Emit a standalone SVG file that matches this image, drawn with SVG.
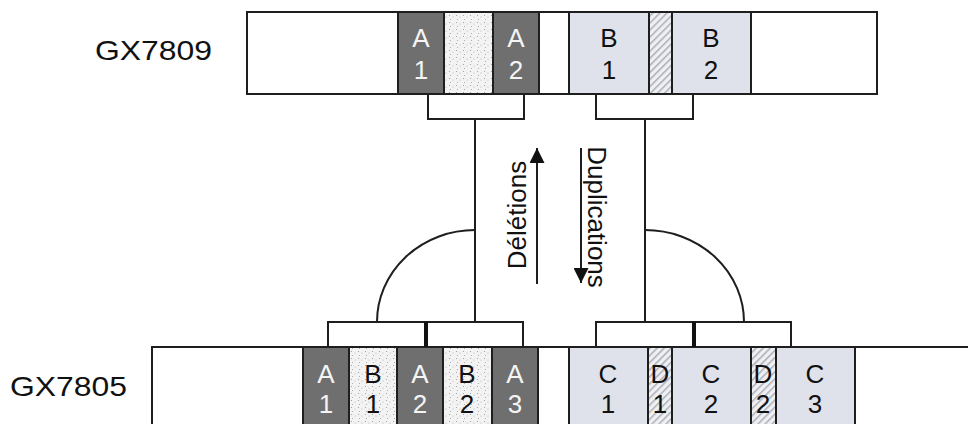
<svg xmlns="http://www.w3.org/2000/svg" width="968" height="424" viewBox="0 0 968 424">
<defs>
<pattern id="dots" width="7" height="7" patternUnits="userSpaceOnUse">
<rect width="7" height="7" fill="#f3f3f3"/>
<circle cx="1.5" cy="1.5" r="0.6" fill="#9a9a9a"/>
<circle cx="5" cy="3" r="0.6" fill="#b0b0b0"/>
<circle cx="2.5" cy="5.5" r="0.6" fill="#a5a5a5"/>
</pattern>
<pattern id="hatch" width="5" height="5" patternUnits="userSpaceOnUse" patternTransform="rotate(-45)">
<rect width="5" height="5" fill="#eef0f4"/>
<rect width="5" height="1.5" fill="#adadb4"/>
</pattern>
<marker id="ah" viewBox="0 0 10 10" refX="10" refY="5" markerWidth="15" markerHeight="15" markerUnits="userSpaceOnUse" orient="auto">
<path d="M0,0 L10,5 L0,10 Z" fill="#111"/>
</marker>
</defs>
<style>
.bar{fill:#fff;stroke:#1e1e1e;stroke-width:2}
.seg{stroke:#1e1e1e;stroke-width:2}
.dk{fill:#6f6f6f}
.lt{fill:#e0e2eb}
.st{fill:url(#dots)}
.ht{fill:url(#hatch)}
.ln{fill:none;stroke:#1e1e1e;stroke-width:2}
.lbl{font-family:"Liberation Sans",Arial,sans-serif;font-size:28px;fill:#111}
.t{font-family:"Liberation Sans",Arial,sans-serif;font-size:26px;text-anchor:middle}
.w{fill:#f4f4f4}
.b{fill:#111}
.rt{font-family:"Liberation Sans",Arial,sans-serif;font-size:26px;fill:#111;text-anchor:middle}
</style>

<g id="GX7809">
<text class="lbl" x="95" y="60" textLength="117" lengthAdjust="spacingAndGlyphs">GX7809</text>
<rect class="bar" x="247" y="12" width="630" height="82"/>
<rect class="seg dk" x="398" y="12" width="46" height="82"/>
<rect class="seg st" x="444" y="12" width="49" height="82"/>
<rect class="seg dk" x="493" y="12" width="46" height="82"/>
<rect class="seg lt" x="569" y="12" width="80" height="82"/>
<rect class="seg ht" x="649" y="12" width="23" height="82"/>
<rect class="seg lt" x="672" y="12" width="79" height="82"/>
<text class="t w" x="421" y="47">A</text><text class="t w" x="421" y="79">1</text>
<text class="t w" x="516" y="47">A</text><text class="t w" x="516" y="79">2</text>
<text class="t b" x="609" y="47">B</text><text class="t b" x="609" y="79">1</text>
<text class="t b" x="711" y="47">B</text><text class="t b" x="711" y="79">2</text>
</g>

<g id="GX7805">
<text class="lbl" x="10" y="396" textLength="117" lengthAdjust="spacingAndGlyphs">GX7805</text>
<rect class="bar" x="152" y="347" width="830" height="90"/>
<rect class="seg dk" x="303" y="347" width="46" height="90"/>
<rect class="seg st" x="349" y="347" width="48" height="90"/>
<rect class="seg dk" x="397" y="347" width="46" height="90"/>
<rect class="seg st" x="443" y="347" width="49" height="90"/>
<rect class="seg dk" x="492" y="347" width="46" height="90"/>
<rect class="seg lt" x="569" y="347" width="79" height="90"/>
<rect class="seg ht" x="648" y="347" width="24" height="90"/>
<rect class="seg lt" x="672" y="347" width="79" height="90"/>
<rect class="seg ht" x="751" y="347" width="25" height="90"/>
<rect class="seg lt" x="776" y="347" width="79" height="90"/>
<text class="t w" x="326" y="383">A</text><text class="t w" x="326" y="413">1</text>
<text class="t b" x="373" y="383">B</text><text class="t b" x="373" y="413">1</text>
<text class="t w" x="420" y="383">A</text><text class="t w" x="420" y="413">2</text>
<text class="t b" x="467" y="383">B</text><text class="t b" x="467" y="413">2</text>
<text class="t w" x="515" y="383">A</text><text class="t w" x="515" y="413">3</text>
<text class="t b" x="608" y="383">C</text><text class="t b" x="608" y="413">1</text>
<text class="t b" x="660" y="383">D</text><text class="t b" x="660" y="413">1</text>
<text class="t b" x="711" y="383">C</text><text class="t b" x="711" y="413">2</text>
<text class="t b" x="763" y="383">D</text><text class="t b" x="763" y="413">2</text>
<text class="t b" x="815" y="383">C</text><text class="t b" x="815" y="413">3</text>
</g>

<g id="connectors">
<path class="ln" d="M428,94 V119 H524 V94"/>
<path class="ln" d="M596,94 V119 H693 V94"/>
<path class="ln" d="M475,119 V322"/>
<path class="ln" d="M645,119 V322"/>
<rect class="ln" x="328" y="322" width="98" height="25"/>
<rect class="ln" x="426" y="322" width="97" height="25"/>
<path d="M426,322 V347" stroke="#111" stroke-width="4"/>
<rect class="ln" x="596" y="322" width="98" height="25"/>
<rect class="ln" x="694" y="322" width="97" height="25"/>
<path d="M694,322 V347" stroke="#111" stroke-width="4"/>
<path class="ln" d="M475,230 A98,92 0 0 0 377,322"/>
<path class="ln" d="M645,230 A99,92 0 0 1 744,322"/>
<path class="ln" d="M537,284 V148" marker-end="url(#ah)"/>
<path class="ln" d="M581,148 V283" marker-end="url(#ah)"/>
<text class="rt" transform="translate(526,215) rotate(-90)">Délétions</text>
<text class="rt" transform="translate(588,217) rotate(90)">Duplications</text>
</g>
</svg>
